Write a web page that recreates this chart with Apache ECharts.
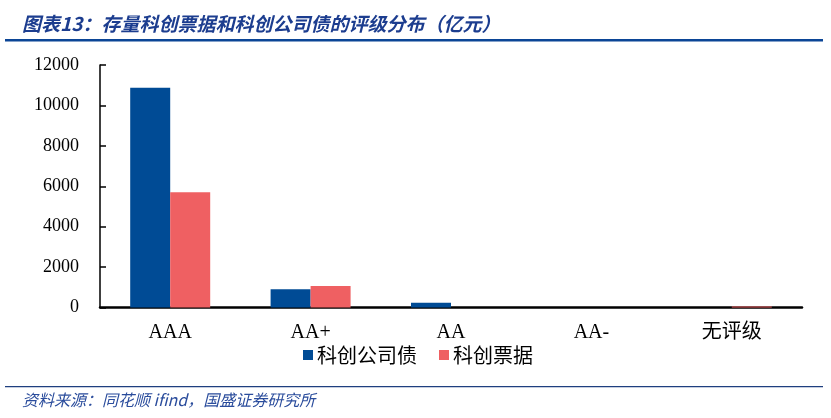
<!DOCTYPE html>
<html>
<head>
<meta charset="utf-8">
<script src="https://cdn.jsdelivr.net/npm/echarts@6/dist/echarts.min.js"></script>
<style>
html,body{margin:0;padding:0;background:#fff;}
#c{width:831px;height:418px;}
</style>
</head>
<body>
<div id="c"></div>
<script>
const categories = ['AAA', 'AA+', 'AA', 'AA-', '无评级'];
const bondValues = [10880, 900, 240, 0, 0];
const billValues = [5700, 1060, 0, 0, 50];
const seriesNames = ['科创公司债', '科创票据'];
const yTicks = { min: 0, max: 12000, interval: 2000 };

const chart = echarts.init(document.getElementById('c'), null, { renderer: 'canvas' });
const serif = '"Liberation Serif","DejaVu Serif","Noto Sans CJK SC",serif';
chart.setOption({
  animation: false,
  backgroundColor: '#ffffff',
  title: [{
    text: '图表13：存量科创票据和科创公司债的评级分布（亿元）',
    left: 17, top: 9,
    textStyle: { color: '#1c3d8f', fontSize: 19, fontWeight: 'bold', fontStyle: 'italic', fontFamily: '"Noto Sans CJK SC",sans-serif' }
  }, {
    text: '资料来源：同花顺 ifind，国盛证券研究所',
    left: 17, top: 387,
    textStyle: { color: '#2a4c9c', fontSize: 16, fontWeight: 'normal', fontStyle: 'italic', fontFamily: '"Noto Sans CJK SC",sans-serif' }
  }],
  graphic: [
    { type: 'rect', shape: { x: 5, y: 39, width: 818, height: 2.5 }, style: { fill: '#0b4596' }, silent: true },
    { type: 'rect', shape: { x: 5, y: 386, width: 818, height: 1.2 }, style: { fill: '#1f3f7f' }, silent: true }
  ],
  legend: {
    left: 298, top: 340,
    itemWidth: 10, itemHeight: 10, itemGap: 22,
    icon: 'rect',
    textStyle: { fontSize: 20, color: '#000', fontFamily: '"Noto Sans CJK SC",serif', padding: [0, 0, 0, -1] },
    data: seriesNames
  },
  grid: { left: 100, top: 65, width: 702, height: 242.5 },
  xAxis: {
    type: 'category',
    data: categories,
    axisLine: { lineStyle: { color: '#000', width: 2.5 } },
    axisTick: { show: false },
    axisLabel: { color: '#000', fontSize: 20, fontFamily: serif, margin: 15 }
  },
  yAxis: {
    type: 'value',
    min: yTicks.min, max: yTicks.max, interval: yTicks.interval,
    axisLine: { show: true, lineStyle: { color: '#000', width: 1.5 } },
    axisTick: { show: true, inside: true, length: 6, lineStyle: { color: '#000', width: 1.5 } },
    splitLine: { show: false },
    axisLabel: { color: '#000', fontSize: 18, fontFamily: serif, margin: 21, formatter: function (v) { return String(v); } }
  },
  series: [{
    name: seriesNames[0], type: 'bar', data: bondValues,
    barWidth: 40, barGap: '0%',
    itemStyle: { color: '#004b95' }
  }, {
    name: seriesNames[1], type: 'bar', data: billValues,
    barWidth: 40, barGap: '0%',
    itemStyle: { color: '#ef6062' }
  }]
});
</script>
</body>
</html>
